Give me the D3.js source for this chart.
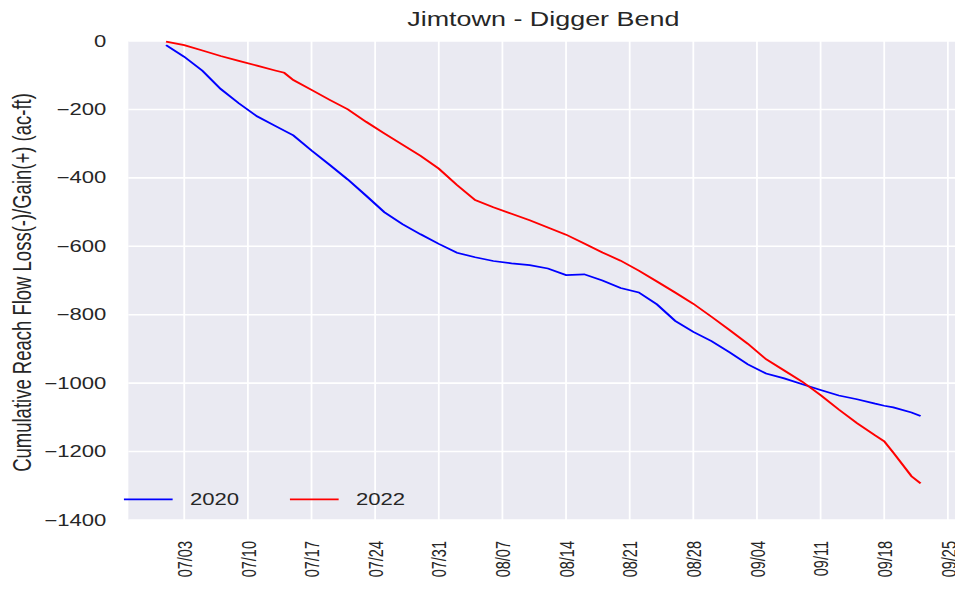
<!DOCTYPE html>
<html>
<head>
<meta charset="utf-8">
<script src="https://cdn.jsdelivr.net/npm/d3@7"></script>
<style>
  body { margin: 0; background: #fff; }
  text { font-family: "Liberation Sans", Arial, sans-serif; fill: #262626; }
</style>
</head>
<body>
<div id="chart"></div>
<script>
// data (cumulative ac-ft)
const dates = ["07/01","07/03","07/05","07/07","07/09","07/11","07/13","07/14","07/15","07/17",
  "07/19","07/21","07/23","07/25","07/27","07/29","07/31","08/02","08/04","08/06","08/08",
  "08/10","08/12","08/14","08/16","08/18","08/20","08/22","08/24","08/26","08/28","08/30",
  "09/01","09/03","09/05","09/07","09/09","09/11","09/13","09/15","09/17","09/18","09/19",
  "09/21","09/22"]
const loss2020 = [-12,-46,-87,-140,-182,-220,-248,-262,-276,-320,
  -362,-405,-452,-500,-535,-565,-593,-619,-632,-643,-650,
  -655,-665,-684,-682,-700,-722,-735,-770,-818,-850,-877,
  -910,-945,-972,-986,-1003,-1020,-1036,-1047,-1060,-1066,-1071,
  -1086,-1096]
const loss2022 = [-2,-12,-28,-44,-58,-72,-86,-93,-114,-143,
  -172,-200,-236,-270,-303,-336,-373,-421,-465,-486,-505,
  -524,-545,-566,-592,-618,-642,-671,-703,-735,-768,-806,
  -845,-885,-930,-963,-996,-1035,-1077,-1117,-1153,-1170,-1203,
  -1272,-1293]
const xTickLabels = ["07/03","07/10","07/17","07/24","07/31","08/07","08/14","08/21",
  "08/28","09/04","09/11","09/18","09/25"]
const yTicks = [0,-200,-400,-600,-800,-1000,-1200,-1400]
const seriesNames = ["2020","2022"]
const seriesColors = ["#0000ff","#ff0000"]

function drawChart() {
  const dateParser = d3.timeParse("%m/%d")
  const xAccessor = d => d.date
  const yAccessor = d => d.value

  const series = [loss2020, loss2022].map((vals, i) => ({
    name: seriesNames[i],
    color: seriesColors[i],
    values: vals.map((v, j) => ({ date: dateParser(dates[j]), value: v })),
  }))

  // the picture is stretched sideways, so draw narrow and stretch the svg
  const stretch = 1.38
  let dimensions = {
    width: 955 / stretch,
    height: 592,
    margin: { top: 41, right: -2.4, bottom: 72, left: 93 },
  }
  dimensions.boundedWidth = dimensions.width - dimensions.margin.left - dimensions.margin.right
  dimensions.boundedHeight = dimensions.height - dimensions.margin.top - dimensions.margin.bottom

  const wrapper = d3.select("#chart")
    .append("svg")
    .attr("width", 955)
    .attr("height", 592)
    .attr("viewBox", `0 0 ${dimensions.width} ${dimensions.height}`)
    .attr("preserveAspectRatio", "none")

  const bounds = wrapper.append("g")
    .attr("transform", `translate(${dimensions.margin.left},${dimensions.margin.top})`)

  // scales, 5% padding on x like matplotlib
  const allDates = series[0].values.map(xAccessor)
  const [d0, d1] = d3.extent(allDates)
  const pad = (d1 - d0) * 0.05
  const xScale = d3.scaleTime()
    .domain([new Date(+d0 - pad), new Date(+d1 + pad)])
    .range([0, dimensions.boundedWidth])
  const yScale = d3.scaleLinear()
    .domain([-1400, 0])
    .range([dimensions.boundedHeight, 0])

  bounds.append("rect")
    .attr("width", dimensions.boundedWidth)
    .attr("height", dimensions.boundedHeight)
    .attr("fill", "#eaeaf2")

  // grids
  const xTicks = xTickLabels.map(dateParser)
  bounds.append("g").selectAll("line").data(yTicks).join("line")
    .attr("x1", 0).attr("x2", dimensions.boundedWidth)
    .attr("y1", d => yScale(d)).attr("y2", d => yScale(d))
    .attr("stroke", "#fff").attr("stroke-width", 1.6)
  bounds.append("g").selectAll("line").data(xTicks).join("line")
    .attr("x1", d => xScale(d)).attr("x2", d => xScale(d))
    .attr("y1", 0).attr("y2", dimensions.boundedHeight)
    .attr("stroke", "#fff").attr("stroke-width", 1.3)

  // lines
  const lineGenerator = d3.line()
    .x(d => xScale(xAccessor(d)))
    .y(d => yScale(yAccessor(d)))
  series.forEach(s => {
    bounds.append("path")
      .attr("d", lineGenerator(s.values))
      .attr("fill", "none")
      .attr("stroke", s.color)
      .attr("stroke-width", 1.7)
  })

  // axes
  const yAxisGenerator = d3.axisLeft(yScale)
    .tickValues(yTicks)
    .tickSize(0)
    .tickPadding(16)
    .tickFormat(d3.format("d"))
  const yAxis = bounds.append("g").call(yAxisGenerator)
  yAxis.select(".domain").remove()
  yAxis.selectAll("text").attr("font-size", 16).attr("fill", "#262626").attr("font-family", null)

  const xAxisGenerator = d3.axisBottom(xScale)
    .tickValues(xTicks)
    .tickSize(0)
    .tickFormat(d3.timeFormat("%m/%d"))
  const xAxis = bounds.append("g")
    .attr("transform", `translate(0,${dimensions.boundedHeight})`)
    .call(xAxisGenerator)
  xAxis.select(".domain").remove()
  xAxis.selectAll("text")
    .attr("font-size", 14.5)
    .attr("fill", "#262626")
    .attr("font-family", null)
    .attr("text-anchor", "end")
    .attr("y", 0).attr("dy", "0.35em")
    .attr("transform", "translate(0,21) rotate(-90)")

  // title and y label
  wrapper.append("text")
    .attr("x", dimensions.margin.left + dimensions.boundedWidth / 2)
    .attr("y", 26)
    .attr("text-anchor", "middle")
    .attr("font-size", 19.5)
    .text("Jimtown - Digger Bend")

  wrapper.append("text")
    .attr("transform", `translate(16,${dimensions.margin.top + dimensions.boundedHeight / 2 + 2}) rotate(-90)`)
    .attr("text-anchor", "middle")
    .attr("dy", "0.35em")
    .attr("font-size", 18.5)
    .text("Cumulative Reach Flow Loss(-)/Gain(+) (ac-ft)")

  // legend
  const legend = bounds.append("g")
    .attr("transform", `translate(-3.2,${dimensions.boundedHeight - 20.7})`)
  series.forEach((s, i) => {
    const item = legend.append("g").attr("transform", `translate(${i * 120.3},0)`)
    item.append("line")
      .attr("x1", 0).attr("x2", 35.3)
      .attr("stroke", s.color).attr("stroke-width", 1.7)
    item.append("text")
      .attr("x", 47.8).attr("dy", "0.35em")
      .attr("font-size", 16)
      .text(s.name)
  })
}
drawChart()
</script>
</body>
</html>
